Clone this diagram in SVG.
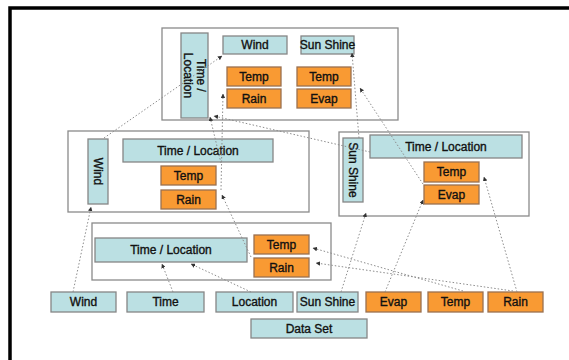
<svg xmlns="http://www.w3.org/2000/svg" width="569" height="360" viewBox="0 0 569 360">
<style>
.frame{fill:none;stroke:#000;stroke-width:3.5}
.cont{fill:#fff;stroke:#8a8a8a;stroke-width:1.3}
.b{fill:#BBE0E3;stroke:#868686;stroke-width:1.3}
.o{fill:#F99A33;stroke:#9a7050;stroke-width:1.3}
text{font-family:"Liberation Sans",Arial,sans-serif;font-size:12px;fill:#111;stroke:#111;stroke-width:0.35;text-anchor:middle}
.c line{stroke:#8c8c8c;stroke-width:1;stroke-dasharray:1.5 2;marker-end:url(#ah)}
</style>
<defs>
<marker id="ah" viewBox="0 0 6 6" refX="5.5" refY="3" markerWidth="4.5" markerHeight="4.5" orient="auto" markerUnits="userSpaceOnUse">
<path d="M0,0 L6,3 L0,6 z" fill="#333"/>
</marker>
</defs>
<rect width="569" height="360" fill="#fff"/>
<rect class="frame" x="10" y="8" width="600" height="400"/>

<g id="top-container"><rect class="cont" x="162" y="28" width="236" height="92"/></g>
<g id="mid-left-container"><rect class="cont" x="68" y="131" width="241" height="81"/></g>
<g id="mid-right-container"><rect class="cont" x="339" y="132" width="190" height="84"/></g>
<g id="bottom-container"><rect class="cont" x="92" y="223" width="239" height="57"/></g>

<g id="top-timeloc"><rect class="b" x="181" y="33" width="27" height="85"/>
<text transform="translate(194.5,75.5) rotate(90)"><tspan x="0" y="-2.5">Time /</tspan><tspan x="0" y="10.5">Location</tspan></text></g>
<g id="top-wind"><rect class="b" x="223" y="36" width="64" height="18"/><text x="255" y="49">Wind</text></g>
<g id="top-sunshine"><rect class="b" x="301" y="36" width="53" height="18"/><text x="327.5" y="49">Sun Shine</text></g>
<g id="top-temp1"><rect class="o" x="227" y="67" width="54" height="19"/><text x="254" y="80.5">Temp</text></g>
<g id="top-rain"><rect class="o" x="227" y="89" width="54" height="19"/><text x="254" y="102.5">Rain</text></g>
<g id="top-temp2"><rect class="o" x="297" y="67" width="54" height="19"/><text x="324" y="80.5">Temp</text></g>
<g id="top-evap"><rect class="o" x="297" y="89" width="54" height="19"/><text x="324" y="102.5">Evap</text></g>

<g id="ml-wind"><rect class="b" x="88" y="139" width="20" height="65"/><text transform="translate(98,171.5) rotate(90)" y="4">Wind</text></g>
<g id="ml-timeloc"><rect class="b" x="123" y="139" width="150" height="23"/><text x="198" y="154.5">Time / Location</text></g>
<g id="ml-temp"><rect class="o" x="161" y="166" width="55" height="19"/><text x="188.5" y="179.5">Temp</text></g>
<g id="ml-rain"><rect class="o" x="161" y="190" width="55" height="19"/><text x="188.5" y="203.5">Rain</text></g>

<g id="mr-sunshine"><rect class="b" x="343" y="138" width="20" height="64"/><text transform="translate(353,170) rotate(90)" y="4">Sun Shine</text></g>
<g id="mr-timeloc"><rect class="b" x="370" y="135" width="152" height="23"/><text x="446" y="150.5">Time / Location</text></g>
<g id="mr-temp"><rect class="o" x="424" y="162" width="55" height="20"/><text x="451.5" y="176">Temp</text></g>
<g id="mr-evap"><rect class="o" x="424" y="185" width="55" height="19"/><text x="451.5" y="198.5">Evap</text></g>

<g id="b-timeloc"><rect class="b" x="95" y="238" width="152" height="24"/><text x="171" y="254">Time / Location</text></g>
<g id="b-temp"><rect class="o" x="254" y="235" width="55" height="19"/><text x="281.5" y="248.5">Temp</text></g>
<g id="b-rain"><rect class="o" x="254" y="258" width="55" height="19"/><text x="281.5" y="271.5">Rain</text></g>

<g id="ds-wind"><rect class="b" x="51" y="292" width="65" height="20"/><text x="83.5" y="306">Wind</text></g>
<g id="ds-time"><rect class="b" x="127" y="292" width="77" height="20"/><text x="165.5" y="306">Time</text></g>
<g id="ds-location"><rect class="b" x="216" y="292" width="77" height="20"/><text x="254.5" y="306">Location</text></g>
<g id="ds-sunshine"><rect class="b" x="297" y="292" width="61" height="20"/><text x="327.5" y="306">Sun Shine</text></g>
<g id="ds-evap"><rect class="o" x="366" y="292" width="55" height="20"/><text x="393.5" y="306">Evap</text></g>
<g id="ds-temp"><rect class="o" x="428" y="292" width="55" height="20"/><text x="455.5" y="306">Temp</text></g>
<g id="ds-rain"><rect class="o" x="488" y="292" width="55" height="20"/><text x="515.5" y="306">Rain</text></g>
<g id="dataset"><rect class="b" x="251" y="319" width="116" height="19"/><text x="309" y="332.5">Data Set</text></g>

<g id="connectors" class="c">
<line x1="73" y1="292" x2="91" y2="207"/>
<line x1="173" y1="292" x2="162" y2="264"/>
<line x1="251" y1="292" x2="191" y2="264"/>
<line x1="341" y1="292" x2="366" y2="213"/>
<line x1="385" y1="292" x2="423" y2="200"/>
<line x1="517" y1="292" x2="484" y2="177"/>
<line x1="463" y1="291" x2="313" y2="248"/>
<line x1="513" y1="291" x2="316" y2="263"/>
<line x1="251" y1="257" x2="222" y2="195"/>
<line x1="221" y1="190" x2="223" y2="94"/>
<line x1="221" y1="163" x2="210" y2="117"/>
<line x1="104" y1="138" x2="222" y2="56"/>
<line x1="370" y1="152" x2="214" y2="116"/>
<line x1="359" y1="138" x2="352" y2="53"/>
<line x1="423" y1="184" x2="360" y2="88"/>
</g>
</svg>
